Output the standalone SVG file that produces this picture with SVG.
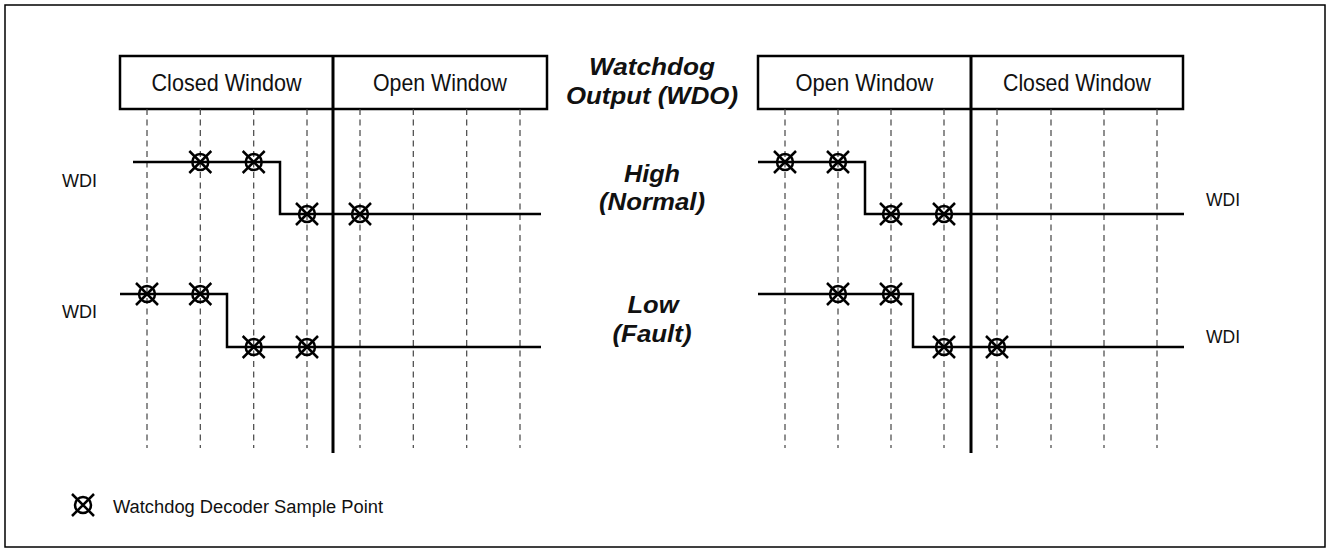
<svg xmlns="http://www.w3.org/2000/svg" width="1330" height="552" viewBox="0 0 1330 552">
<style>
.frame{fill:none;stroke:#000;stroke-width:1.5}
.box{fill:#fff;stroke:#000;stroke-width:2.5}
.solid{stroke:#000;stroke-width:3}
.dash{stroke:#444;stroke-width:1.2;stroke-dasharray:6 4.5}
.wave{fill:none;stroke:#000;stroke-width:2.5}
.win{font-family:"Liberation Sans",Arial,sans-serif;font-size:24px;fill:#111;text-anchor:middle}
.lbl{font-family:"Liberation Sans",Arial,sans-serif;font-size:18px;fill:#111}
.state{font-family:"Liberation Sans",Arial,sans-serif;font-size:24px;font-weight:bold;font-style:italic;fill:#111;text-anchor:middle}
</style>
<defs>
<g id="sp">
<circle cx="0" cy="0" r="8" fill="none" stroke="#000" stroke-width="2.5"/>
<path d="M-11,-11 L11,11 M-11,11 L11,-11" stroke="#000" stroke-width="2.5"/>
</g>
</defs>
<rect class="frame" x="5" y="5" width="1320" height="542"/>

<g id="left-header">
<rect class="box" x="120" y="56" width="427" height="53"/>
<text class="win" x="226.5" y="91" textLength="150" lengthAdjust="spacingAndGlyphs">Closed Window</text>
<text class="win" x="440" y="91" textLength="134" lengthAdjust="spacingAndGlyphs">Open Window</text>
</g>
<g id="right-header">
<rect class="box" x="758" y="56" width="425" height="53"/>
<text class="win" x="864.5" y="91" textLength="138" lengthAdjust="spacingAndGlyphs">Open Window</text>
<text class="win" x="1077" y="91" textLength="148" lengthAdjust="spacingAndGlyphs">Closed Window</text>
</g>

<g id="grid-left">
<line class="dash" x1="147" y1="109" x2="147" y2="448"/>
<line class="dash" x1="200.3" y1="109" x2="200.3" y2="448"/>
<line class="dash" x1="253.7" y1="109" x2="253.7" y2="448"/>
<line class="dash" x1="307" y1="109" x2="307" y2="448"/>
<line class="dash" x1="360" y1="109" x2="360" y2="448"/>
<line class="dash" x1="413.3" y1="109" x2="413.3" y2="448"/>
<line class="dash" x1="466.7" y1="109" x2="466.7" y2="448"/>
<line class="dash" x1="520" y1="109" x2="520" y2="448"/>
<line class="solid" x1="333" y1="56" x2="333" y2="453"/>
</g>
<g id="grid-right">
<line class="dash" x1="785" y1="109" x2="785" y2="448"/>
<line class="dash" x1="838" y1="109" x2="838" y2="448"/>
<line class="dash" x1="891" y1="109" x2="891" y2="448"/>
<line class="dash" x1="944" y1="109" x2="944" y2="448"/>
<line class="dash" x1="997" y1="109" x2="997" y2="448"/>
<line class="dash" x1="1051" y1="109" x2="1051" y2="448"/>
<line class="dash" x1="1104" y1="109" x2="1104" y2="448"/>
<line class="dash" x1="1157" y1="109" x2="1157" y2="448"/>
<line class="solid" x1="971" y1="56" x2="971" y2="453"/>
</g>

<g id="connectors">
<path class="wave" d="M133,162 H280 V214 H541"/>
<path class="wave" d="M120,294 H227 V347 H541"/>
<path class="wave" d="M758,162 H865 V214 H1184"/>
<path class="wave" d="M758,294 H913 V347 H1184"/>
</g>

<g id="samples">
<use href="#sp" x="200.3" y="162"/>
<use href="#sp" x="253.7" y="162"/>
<use href="#sp" x="307" y="214"/>
<use href="#sp" x="360" y="214"/>
<use href="#sp" x="147" y="294"/>
<use href="#sp" x="200.3" y="294"/>
<use href="#sp" x="253.7" y="347"/>
<use href="#sp" x="307" y="347"/>
<use href="#sp" x="785" y="162"/>
<use href="#sp" x="838" y="162"/>
<use href="#sp" x="891" y="214"/>
<use href="#sp" x="944" y="214"/>
<use href="#sp" x="838" y="294"/>
<use href="#sp" x="891" y="294"/>
<use href="#sp" x="944" y="347"/>
<use href="#sp" x="997" y="347"/>
</g>

<g id="wdi-labels">
<text class="lbl" x="62" y="187" textLength="35" lengthAdjust="spacingAndGlyphs">WDI</text>
<text class="lbl" x="62" y="318" textLength="35" lengthAdjust="spacingAndGlyphs">WDI</text>
<text class="lbl" x="1206" y="206" textLength="34" lengthAdjust="spacingAndGlyphs">WDI</text>
<text class="lbl" x="1206" y="343" textLength="34" lengthAdjust="spacingAndGlyphs">WDI</text>
</g>

<g id="center-labels">
<text class="state" x="652" y="75" textLength="126" lengthAdjust="spacingAndGlyphs">Watchdog</text>
<text class="state" x="652" y="104" textLength="172" lengthAdjust="spacingAndGlyphs">Output (WDO)</text>
<text class="state" x="652" y="182" textLength="56" lengthAdjust="spacingAndGlyphs">High</text>
<text class="state" x="652" y="210" textLength="106" lengthAdjust="spacingAndGlyphs">(Normal)</text>
<text class="state" x="653" y="313" textLength="51" lengthAdjust="spacingAndGlyphs">Low</text>
<text class="state" x="652" y="342" textLength="79" lengthAdjust="spacingAndGlyphs">(Fault)</text>
</g>

<g id="legend">
<use href="#sp" x="83" y="505"/>
<text class="lbl" x="113" y="513" textLength="270" lengthAdjust="spacingAndGlyphs">Watchdog Decoder Sample Point</text>
</g>
</svg>
